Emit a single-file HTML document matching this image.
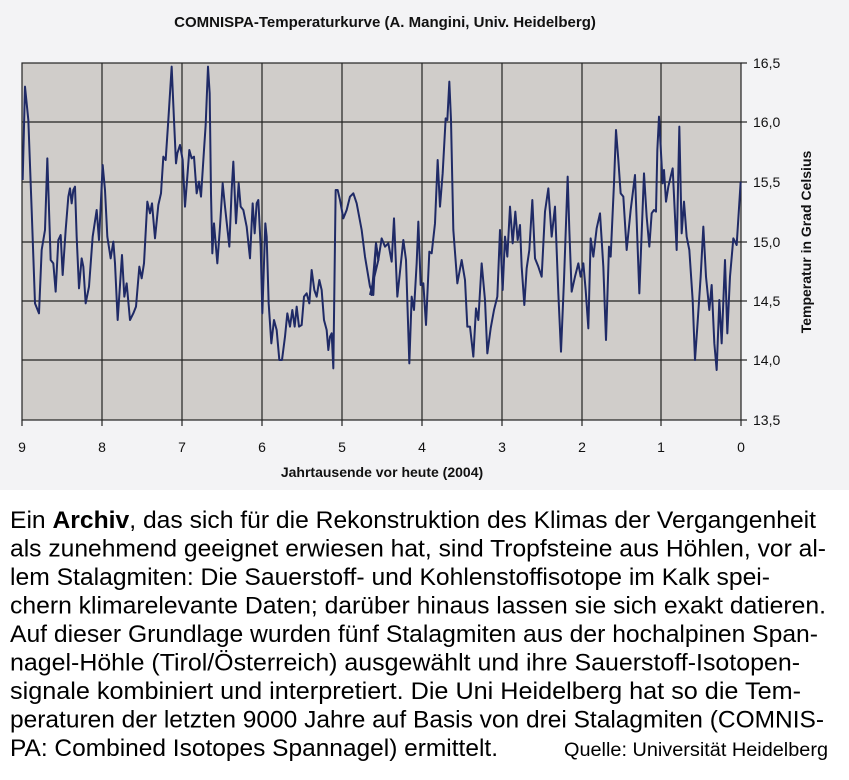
<!DOCTYPE html>
<html><head><meta charset="utf-8"><style>
html,body{margin:0;padding:0;background:#fff;}
svg{display:block;}
</style></head><body>
<svg width="849" height="780" viewBox="0 0 849 780" xmlns="http://www.w3.org/2000/svg">
<rect x="0" y="0" width="849" height="490" fill="#f3f3f5"/>
<text x="385" y="27" text-anchor="middle" font-family="Liberation Sans, sans-serif" font-weight="bold" font-size="15" fill="#111">COMNISPA-Temperaturkurve (A. Mangini, Univ. Heidelberg)</text>
<rect x="22" y="63" width="719" height="357" fill="#d0cdca" stroke="#222" stroke-width="1.2"/>
<g stroke="#222" stroke-width="1.2">
<line x1="22" y1="122" x2="741" y2="122"/><line x1="22" y1="182" x2="741" y2="182"/>
<line x1="22" y1="242" x2="741" y2="242"/><line x1="22" y1="301" x2="741" y2="301"/>
<line x1="22" y1="360" x2="741" y2="360"/>
<line x1="102" y1="63" x2="102" y2="420"/><line x1="182" y1="63" x2="182" y2="420"/>
<line x1="262" y1="63" x2="262" y2="420"/><line x1="342" y1="63" x2="342" y2="420"/>
<line x1="422" y1="63" x2="422" y2="420"/><line x1="502" y1="63" x2="502" y2="420"/>
<line x1="582" y1="63" x2="582" y2="420"/><line x1="661" y1="63" x2="661" y2="420"/>
<line x1="741" y1="63" x2="747" y2="63"/><line x1="741" y1="122" x2="747" y2="122"/>
<line x1="741" y1="182" x2="747" y2="182"/><line x1="741" y1="242" x2="747" y2="242"/>
<line x1="741" y1="301" x2="747" y2="301"/><line x1="741" y1="360" x2="747" y2="360"/>
<line x1="741" y1="420" x2="747" y2="420"/>
<line x1="22" y1="420" x2="22" y2="426"/><line x1="102" y1="420" x2="102" y2="426"/>
<line x1="182" y1="420" x2="182" y2="426"/><line x1="262" y1="420" x2="262" y2="426"/>
<line x1="342" y1="420" x2="342" y2="426"/><line x1="422" y1="420" x2="422" y2="426"/>
<line x1="502" y1="420" x2="502" y2="426"/><line x1="582" y1="420" x2="582" y2="426"/>
<line x1="661" y1="420" x2="661" y2="426"/><line x1="741" y1="420" x2="741" y2="426"/>
</g>
<g fill="none" stroke="#1f2a66" stroke-width="2" stroke-linejoin="round">
<polyline transform="translate(0,50) scale(0.33333)" vector-effect="non-scaling-stroke" points="68,390 75,110 85,210 95,480 105,760 117,790 125,600 135,540 142,325 152,630 160,640 167,725 175,570 182,555 188,675 197,540 205,440 210,415 215,460 220,420 225,410 230,560 237,715 245,625 250,650 257,760 267,710 278,560 290,480 297,570 302,470 308,345 315,420 322,560 332,625 340,575 345,640 353,810 366,615 373,740 380,700 390,810 400,790 408,770 418,650 425,685 432,640 442,455 450,490 456,460 465,565 475,465 483,430 490,320 497,330 505,210 515,50 522,210 528,340 532,310 540,285 548,330 555,470 562,380 568,300 575,325 582,320 590,430 597,395 603,440 612,300 617,225 624,50 629,130 633,430 637,610 642,520 652,640 660,530 668,400 675,470 688,590 695,420 700,335 708,520 716,400 722,470 730,480 740,530 750,625 758,460 764,550 770,460 775,450 782,590 787,790 796,520 800,560 806,760 814,880 822,810 830,840 838,930 846,930 855,860 862,790 870,830 877,780 884,830 890,770 897,830 905,825 912,740 920,730 928,760 935,660 943,720 950,740 958,690 965,720 972,810 980,840 985,900 990,860 995,850 1000,955 1007,420 1013,420 1020,450 1030,505 1040,480 1050,440 1060,430 1070,460 1085,540 1095,620 1110,710 1120,735 1128,580 1135,630 1110,735"/>
<polyline transform="translate(370,50) scale(0.33333)" vector-effect="non-scaling-stroke" points="0,730 5,735 18,580 25,630 35,565 45,590 55,580 65,635 72,505 82,740 90,665 100,570 108,630 118,940 125,740 132,780 140,640 145,515 152,705 160,700 168,825 178,605 185,610 195,520 203,330 210,470 218,370 227,205 232,210 238,95 243,210 250,540 262,700 275,630 285,690 292,830 300,830 310,920 318,775 325,810 335,640 345,750 352,910 362,835 372,780 382,740 390,540 398,720 405,560 412,620 420,470 428,580 436,485 443,570 450,525 455,650 463,765 470,655 478,600 487,450 495,625 505,650 515,680 525,485 535,415 545,560 555,470 565,730 573,905 582,690 593,380 598,540 605,725 615,680 625,640 632,680 640,640 647,720 655,835 662,565 670,620 680,535 690,490 700,650 708,870 717,590 722,620 732,400 738,240 745,330 752,430 760,440 770,600 782,480 795,375 808,730 822,370 830,500 838,590 845,490 852,480 858,485 862,300 867,200 872,290 878,400 882,360 888,455 895,410 902,380 908,355 916,520 920,600 928,230 935,550 942,455 950,560 958,600 968,750 975,930 982,830 992,680 1000,530 1008,680 1018,780 1025,705 1033,880 1040,960 1048,750 1055,880 1065,630 1072,850 1080,680 1090,565 1100,585 1112,395"/>
</g>
<g font-family="Liberation Sans, sans-serif" font-size="14" fill="#111">
<text x="753" y="68">16,5</text><text x="753" y="127">16,0</text><text x="753" y="187">15,5</text>
<text x="753" y="247">15,0</text><text x="753" y="306">14,5</text><text x="753" y="365">14,0</text>
<text x="753" y="425">13,5</text>
<g text-anchor="middle">
<text x="22" y="452">9</text><text x="102" y="452">8</text><text x="182" y="452">7</text><text x="262" y="452">6</text>
<text x="342" y="452">5</text><text x="422" y="452">4</text><text x="502" y="452">3</text><text x="582" y="452">2</text>
<text x="661" y="452">1</text><text x="741" y="452">0</text>
</g>
<text x="382" y="477" text-anchor="middle" font-weight="bold">Jahrtausende vor heute (2004)</text>
<text transform="translate(811,242) rotate(-90)" text-anchor="middle" font-weight="bold">Temperatur in Grad Celsius</text>
</g>
<g font-family="Liberation Sans Narrow, Liberation Sans, sans-serif" font-size="24" fill="#000">
<text x="10" y="528" textLength="806" lengthAdjust="spacingAndGlyphs">Ein <tspan font-weight="bold">Archiv</tspan>, das sich für die Rekonstruktion des Klimas der Vergangenheit</text>
<text x="10" y="556.5" textLength="816" lengthAdjust="spacingAndGlyphs">als zunehmend geeignet erwiesen hat, sind Tropfsteine aus Höhlen, vor al-</text>
<text x="10" y="585" textLength="760" lengthAdjust="spacingAndGlyphs">lem Stalagmiten: Die Sauerstoff- und Kohlenstoffisotope im Kalk spei-</text>
<text x="10" y="613.5" textLength="816" lengthAdjust="spacingAndGlyphs">chern klimarelevante Daten; darüber hinaus lassen sie sich exakt datieren.</text>
<text x="10" y="642" textLength="808" lengthAdjust="spacingAndGlyphs">Auf dieser Grundlage wurden fünf Stalagmiten aus der hochalpinen Span-</text>
<text x="10" y="670.5" textLength="790" lengthAdjust="spacingAndGlyphs">nagel-Höhle (Tirol/Österreich) ausgewählt und ihre Sauerstoff-Isotopen-</text>
<text x="10" y="699" textLength="791" lengthAdjust="spacingAndGlyphs">signale kombiniert und interpretiert. Die Uni Heidelberg hat so die Tem-</text>
<text x="10" y="727.5" textLength="814" lengthAdjust="spacingAndGlyphs">peraturen der letzten 9000 Jahre auf Basis von drei Stalagmiten (COMNIS-</text>
<text x="10" y="756" textLength="488" lengthAdjust="spacingAndGlyphs">PA: Combined Isotopes Spannagel) ermittelt.</text>
<text x="564" y="756" font-size="19" textLength="264" lengthAdjust="spacingAndGlyphs">Quelle: Universität Heidelberg</text>
</g>
</svg>
</body></html>
